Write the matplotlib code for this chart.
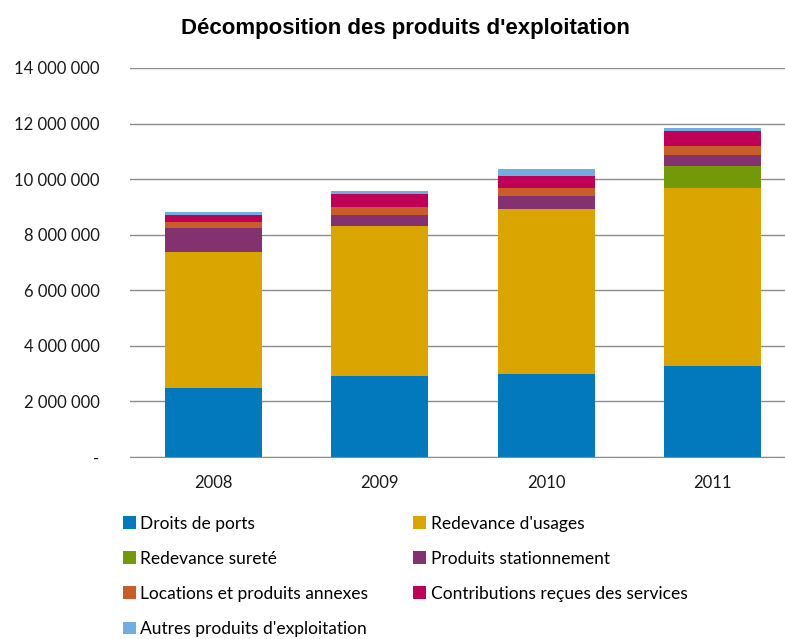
import numpy as np
import matplotlib.pyplot as plt
from matplotlib.ticker import FuncFormatter
from matplotlib.patches import Patch

# Valeurs (en euros)
annees = ['2008', '2009', '2010', '2011']
droits_ports = [2490000, 2900000, 2970000, 3270000]
redevance_usages = [4900000, 5430000, 5960000, 6420000]
redevance_surete = [0, 0, 0, 790000]
produits_stationnement = [840000, 380000, 460000, 390000]
locations_annexes = [240000, 290000, 300000, 320000]
contributions_services = [240000, 460000, 440000, 540000]
autres_produits = [100000, 130000, 220000, 100000]

series = [
    ("Droits de ports", droits_ports, '#0179BC'),
    ("Redevance d'usages", redevance_usages, '#DBA500'),
    ("Redevance sureté", redevance_surete, '#729A08'),
    ("Produits stationnement", produits_stationnement, '#84316F'),
    ("Locations et produits annexes", locations_annexes, '#C95D29'),
    ("Contributions reçues des services", contributions_services, '#BF0057'),
    ("Autres produits d'exploitation", autres_produits, '#70AEE1'),
]

plt.rcParams['font.family'] = ['Lato', 'DejaVu Sans']

fig = plt.figure(figsize=(7.85, 6.39), dpi=100)
ax = fig.add_axes([130 / 785, 1 - 457 / 639, 666 / 785, 389 / 639])

x = np.arange(len(annees))
bottom = np.zeros(len(annees))
handles = []
for label, vals, col in series:
    vals = np.array(vals, dtype=float)
    ax.bar(x, vals, 0.58, bottom=bottom, color=col, edgecolor='none')
    bottom += vals
    handles.append(Patch(facecolor=col, label=label))

ax.set_xlim(-0.5, 3.5)
ax.set_ylim(0, 14e6)
ax.set_yticks(np.arange(0, 14e6 + 1, 2e6))
ax.yaxis.set_major_formatter(FuncFormatter(
    lambda v, p: '-' if v == 0 else f'{int(v):,}'.replace(',', ' ')))
ax.set_xticks(x)
ax.set_xticklabels(annees)
ax.grid(axis='y', color='#8c8c8c', lw=1)
ax.set_axisbelow(True)
for s in ['top', 'right', 'left']:
    ax.spines[s].set_visible(False)
ax.spines['bottom'].set_color('#8c8c8c')
ax.tick_params(axis='both', length=0, labelsize=12, colors='#1a1a1a')
ax.tick_params(axis='y', pad=22)
ax.tick_params(axis='x', pad=13)

fig.text(0.5166, 0.956, "Décomposition des produits d'exploitation",
         ha='center', va='center', fontsize=16, fontweight='bold',
         family=['Liberation Sans', 'DejaVu Sans'])

# légende en lignes : matplotlib remplit par colonnes, donc on réordonne
ordre = [0, 2, 4, 6, 1, 3, 5]
fig.legend(handles=[handles[i] for i in ordre], ncol=2, loc='upper left',
           bbox_to_anchor=(114 / 785, 1 - 507 / 639), frameon=False,
           borderpad=0, fontsize=12.5, handlelength=0.75, handleheight=0.75,
           handletextpad=0.25, labelspacing=1.1, columnspacing=2.6)

fig.savefig('out.png', dpi=100)
